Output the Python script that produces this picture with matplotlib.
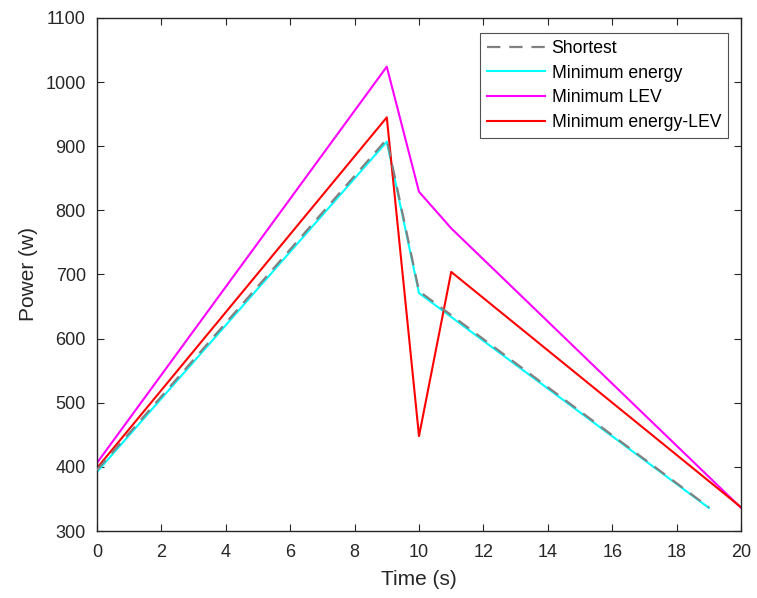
import matplotlib
matplotlib.use("Agg")
import matplotlib.pyplot as plt

plt.rcParams['font.family'] = ['Liberation Sans', 'DejaVu Sans']

# Data (vertices)
t_short = [0, 9, 10, 19]
p_short = [395, 911, 674, 337]
t_energy = [0, 9, 10, 19]
p_energy = [392, 907, 671, 336]
t_lev = [0, 9, 10, 11, 20]
p_lev = [406, 1024, 829, 772, 336]
t_elev = [0, 9, 10, 11, 20]
p_elev = [398, 945, 448, 704, 337]

xticks = list(range(0, 21, 2))
yticks = list(range(300, 1101, 100))

dark = (0.15, 0.15, 0.15)

fig = plt.figure(figsize=(7.57, 5.98), dpi=100)
ax = fig.add_axes([0.128, 0.112, 0.851, 0.858])

ax.plot(t_short, p_short, color=(0.5, 0.5, 0.5), linestyle=(0, (6, 4)), linewidth=1.6, label='Shortest', zorder=3)
ax.plot(t_energy, p_energy, color='cyan', linewidth=1.5, label='Minimum energy', zorder=2)
ax.plot(t_lev, p_lev, color='magenta', linewidth=1.5, label='Minimum LEV', zorder=2)
ax.plot(t_elev, p_elev, color='red', linewidth=1.5, label='Minimum energy-LEV', zorder=2)

ax.set_xlim(0, 20)
ax.set_ylim(300, 1100)
ax.set_xticks(xticks)
ax.set_yticks(yticks)
ax.tick_params(direction='in', top=True, right=True, labelsize=13, colors=dark, length=5)
ax.tick_params(axis='y', pad=8)
ax.tick_params(axis='x', pad=9)
for s in ax.spines.values():
    s.set_color(dark)
    s.set_linewidth(1.0)
ax.set_xlabel('Time (s)', fontsize=15, color=dark, labelpad=7)
ax.set_ylabel('Power (w)', fontsize=15, color=dark, labelpad=5)

leg = ax.legend(loc='upper right', bbox_to_anchor=(0.98, 0.971), fontsize=12.7, frameon=True, fancybox=False,
                edgecolor=dark, handlelength=3.3, handletextpad=0.35, borderpad=0.4,
                labelspacing=0.44, borderaxespad=0)
leg.get_frame().set_linewidth(0.8)

fig.savefig('out.png', dpi=100)
